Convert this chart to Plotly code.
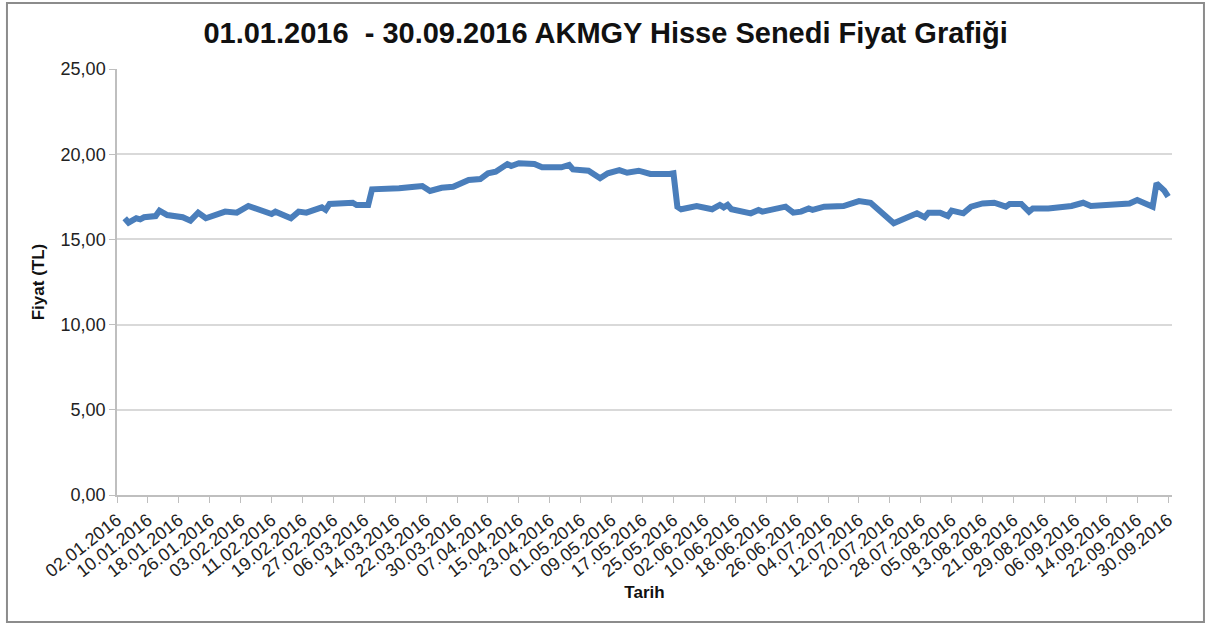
import plotly.graph_objects as go

dates = [
    "2016-01-04", "2016-01-05", "2016-01-07", "2016-01-08", "2016-01-09", "2016-01-12",
    "2016-01-13", "2016-01-15", "2016-01-19", "2016-01-21", "2016-01-23", "2016-01-25",
    "2016-01-30", "2016-02-02", "2016-02-05", "2016-02-11", "2016-02-12", "2016-02-16",
    "2016-02-18", "2016-02-20", "2016-02-24", "2016-02-25", "2016-02-26", "2016-03-02",
    "2016-03-03", "2016-03-04", "2016-03-07", "2016-03-08", "2016-03-13", "2016-03-15",
    "2016-03-19", "2016-03-21", "2016-03-23", "2016-03-26", "2016-03-29", "2016-04-02",
    "2016-04-05", "2016-04-07", "2016-04-09", "2016-04-12", "2016-04-13", "2016-04-15",
    "2016-04-19", "2016-04-21", "2016-04-26", "2016-04-28", "2016-04-29", "2016-05-03",
    "2016-05-06", "2016-05-08", "2016-05-11", "2016-05-13", "2016-05-16", "2016-05-19",
    "2016-05-24", "2016-05-25", "2016-05-26", "2016-05-27", "2016-05-31", "2016-06-04",
    "2016-06-06", "2016-06-07", "2016-06-08", "2016-06-09", "2016-06-14", "2016-06-16",
    "2016-06-17", "2016-06-23", "2016-06-25", "2016-06-27", "2016-06-29", "2016-06-30",
    "2016-07-03", "2016-07-08", "2016-07-12", "2016-07-15", "2016-07-21", "2016-07-25",
    "2016-07-27", "2016-07-29", "2016-07-30", "2016-08-02", "2016-08-04", "2016-08-05",
    "2016-08-08", "2016-08-10", "2016-08-13", "2016-08-16", "2016-08-19", "2016-08-20",
    "2016-08-23", "2016-08-25", "2016-08-26", "2016-08-30", "2016-09-05", "2016-09-08",
    "2016-09-10", "2016-09-20", "2016-09-22", "2016-09-26", "2016-09-27", "2016-09-29",
    "2016-09-30",
]
prices = [
    16.24, 15.98, 16.24, 16.18, 16.30, 16.37,
    16.69, 16.43, 16.30, 16.10, 16.57, 16.24,
    16.63, 16.57, 16.96, 16.49, 16.63, 16.24,
    16.63, 16.57, 16.88, 16.73, 17.08, 17.08,
    17.15, 17.02, 17.02, 17.94, 17.94, 18.00,
    18.09, 18.13, 17.84, 18.03, 18.09, 18.49,
    18.54, 18.88, 18.97, 19.42, 19.31, 19.47,
    19.42, 19.23, 19.23, 19.37, 19.11, 19.03,
    18.59, 18.88, 19.07, 18.91, 19.03, 18.84,
    18.84, 18.88, 16.92, 16.77, 16.96, 16.77,
    17.02, 16.88, 17.02, 16.77, 16.53, 16.73,
    16.63, 16.92, 16.57, 16.63, 16.82, 16.73,
    16.92, 16.96, 17.25, 17.15, 15.95, 16.35,
    16.53, 16.30, 16.57, 16.57, 16.37, 16.69,
    16.53, 16.92, 17.11, 17.15, 16.92, 17.08,
    17.08, 16.63, 16.82, 16.82, 16.96, 17.15,
    16.96, 17.11, 17.31, 16.92, 18.29, 17.86,
    17.51,
]

title_text = "01.01.2016  - 30.09.2016 AKMGY Hisse Senedi Fiyat Grafiği"
x_title = "Tarih"
y_title = "Fiyat (TL)"

FONT = "Liberation Sans, Arial, sans-serif"

fig = go.Figure()
fig.add_trace(go.Scatter(
    x=dates, y=prices, mode="lines",
    line=dict(color="#4a7ebb", width=6),
    hoverinfo="skip", showlegend=False,
))

fig.update_layout(
    width=1221, height=627,
    margin=dict(l=117, r=49, t=69, b=132),
    paper_bgcolor="white", plot_bgcolor="white",
    separators=",.",
    font=dict(family=FONT, color="#222222"),
    title=dict(text="<b>" + title_text + "</b>", x=0.496, xanchor="center",
               y=0.947, yanchor="middle",
               font=dict(family=FONT, size=29, color="#111111")),
    xaxis=dict(
        type="date",
        range=["2016-01-02", "2016-10-01"],
        tick0="2016-01-02", dtick=8 * 86400000,
        tickformat="%d.%m.%Y", tickangle=-38,
        tickfont=dict(size=18, color="#222222"),
        showgrid=False, showline=True, linecolor="#bfbfbf", linewidth=1.5,
        ticks="outside", ticklen=6, tickcolor="#bfbfbf",
        title=dict(text="<b>" + x_title + "</b>", font=dict(size=17, color="#111111"), standoff=6),
        zeroline=False, fixedrange=True,
    ),
    yaxis=dict(
        range=[0, 25], dtick=5, tickformat=".2f",
        tickfont=dict(size=18, color="#222222"),
        showgrid=True, gridcolor="#d9d9d9", gridwidth=1.5,
        showline=True, linecolor="#bfbfbf", linewidth=1.5,
        ticks="outside", ticklen=6, tickcolor="#bfbfbf",
        title=dict(text="<b>" + y_title + "</b>", font=dict(size=17, color="#111111"), standoff=12),
        zeroline=False, fixedrange=True,
    ),
    shapes=[dict(type="rect", xref="paper", yref="paper",
                 x0=-0.1043, x1=1.0303, y0=-0.2981, y1=1.1549,
                 line=dict(color="#8c8c8c", width=2), fillcolor="rgba(0,0,0,0)")],
)

fig.write_html("out.html", config={"displayModeBar": False},
               post_script="document.body.style.margin='0';")
